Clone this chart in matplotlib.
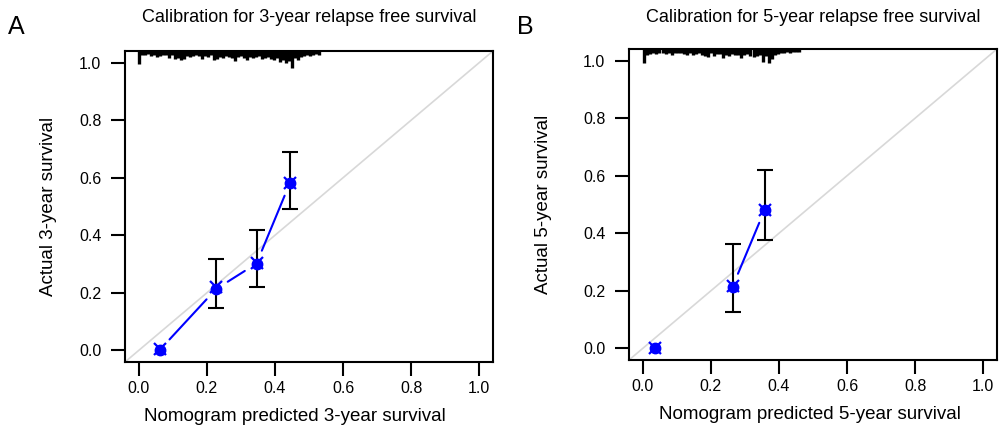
import matplotlib
matplotlib.use("Agg")
import matplotlib.pyplot as plt
import numpy as np

plt.rcParams['font.family'] = ['Liberation Sans', 'DejaVu Sans']

titles = ["Calibration for 3-year relapse free survival",
          "Calibration for 5-year relapse free survival"]
xlabels = ["Nomogram predicted 3-year survival", "Nomogram predicted 5-year survival"]
ylabels = ["Actual 3-year survival", "Actual 5-year survival"]
panel_tags = ["A", "B"]

# panel A: 3-year
pred_a = [0.063, 0.227, 0.346, 0.444]
obs_a = [0.003, 0.213, 0.302, 0.582]
corr_a = [0.004, 0.222, 0.303, 0.580]
lo_a = [np.nan, 0.148, 0.219, 0.491]
hi_a = [np.nan, 0.318, 0.419, 0.690]

# panel B: 5-year
pred_b = [0.035, 0.264, 0.358]
obs_b = [0.001, 0.215, 0.481]
corr_b = [0.002, 0.217, 0.481]
lo_b = [np.nan, 0.127, 0.377]
hi_b = [np.nan, 0.362, 0.620]

# which points are joined by the line
join_a = [0, 1, 2, 3]
join_b = [1, 2]

# rug of predicted values (tick lengths, relative frequency)
rug_a_start, rug_a_step = 0.0, 0.0088
rug_a = [12, 3, 3, 2, 4, 3, 5, 4, 3, 3, 6, 3, 7, 6, 8, 7, 4, 5, 4, 3,
         4, 7, 4, 5, 3, 8, 7, 5, 6, 4, 5, 6, 9, 5, 4, 6, 8, 5, 6, 5,
         4, 7, 6, 5, 7, 8, 6, 10, 8, 11, 9, 16, 6, 8, 5, 4, 3, 4, 3, 2, 3]
rug_b_start, rug_b_step = 0.005, 0.0089
rug_b = [13, 5, 4, 3, 4, 3, 3, 4, 3, 5, 3, 3, 3, 4, 5, 3, 5, 4, 3, 5,
         6, 7, 3, 6, 4, 4, 8, 5, 6, 4, 5, 5, 8, 5, 4, 6, 7, 6, 5, 12,
         6, 13, 9, 5, 4, 3, 3, 2, 3, 2, 2, 2]

panels = [
    dict(pred=pred_a, obs=obs_a, corr=corr_a, lo=lo_a, hi=hi_a, join=join_a,
         rug=rug_a, rug0=rug_a_start, rugstep=rug_a_step),
    dict(pred=pred_b, obs=obs_b, corr=corr_b, lo=lo_b, hi=hi_b, join=join_b,
         rug=rug_b, rug0=rug_b_start, rugstep=rug_b_step),
]

W, H = 999, 434
fig = plt.figure(figsize=(W / 100, H / 100), dpi=100)

# axes boxes in pixels: left, top, right, bottom
boxes = [(125, 51, 493, 362), (629, 49, 997, 360)]
xlab_x = [0.462, 0.492]
ylab_x = [-0.185, -0.209]
tag_x = [8, 517]

for i, (p, box) in enumerate(zip(panels, boxes)):
    l, t, r, b = box
    ax = fig.add_axes([l / W, 1 - b / H, (r - l) / W, (b - t) / H])
    ax.set_xlim(-0.04, 1.04)
    ax.set_ylim(-0.04, 1.04)

    ax.axline((0, 0), slope=1, color='#d8d8d8', lw=1.2, zorder=1)

    # rug at top
    px = 1.08 / (b - t)
    xs = p['rug0'] + p['rugstep'] * np.arange(len(p['rug']))
    ax.vlines(xs, 1.04 - (np.array(p['rug']) + 1) * px, 1.04, color='black',
              lw=2.4, zorder=3)

    pred = np.array(p['pred'])
    obs = np.array(p['obs'])
    # line between points with gaps (R type="b")
    for j0, j1 in zip(p['join'][:-1], p['join'][1:]):
        ax.annotate('', xy=(pred[j1], obs[j1]), xytext=(pred[j0], obs[j0]),
                    arrowprops=dict(arrowstyle='-', color='blue', lw=1.5,
                                    shrinkA=10, shrinkB=10), zorder=2)

    err_lo = obs - np.array(p['lo'])
    err_hi = np.array(p['hi']) - obs
    ax.errorbar(pred, obs, yerr=[err_lo, err_hi], fmt='none', ecolor='black',
                elinewidth=1.5, capsize=6, capthick=1.5, zorder=4)
    ax.plot(pred, obs, 'o', color='blue', ms=7.5, zorder=5)
    ax.plot(pred, p['corr'], 'x', color='blue', ms=9, mew=1.6, zorder=6)

    ticks = [0.0, 0.2, 0.4, 0.6, 0.8, 1.0]
    ax.set_xticks(ticks)
    ax.set_yticks(ticks)
    ax.set_xticklabels([f"{v:.1f}" for v in ticks])
    ax.set_yticklabels([f"{v:.1f}" for v in ticks])
    ax.tick_params(axis='both', direction='out', length=10, width=1.5,
                   labelsize=11.5, color='black')
    ax.tick_params(axis='x', pad=3.5)
    ax.tick_params(axis='y', pad=7)
    for s in ax.spines.values():
        s.set_linewidth(1.5)

    ax.set_xlabel(xlabels[i], fontsize=13.5)
    ax.set_ylabel(ylabels[i], fontsize=13.5)
    ax.xaxis.set_label_coords(xlab_x[i], -0.148)
    ax.yaxis.set_label_coords(ylab_x[i], 0.5)

    fig.text((l + r) / 2 / W, 1 - 18 / H, titles[i], ha='center', va='center',
             fontsize=13)
    fig.text(tag_x[i] / W, 1 - 15 / H, panel_tags[i], ha='left', va='top',
             fontsize=18)

fig.savefig("out.png", dpi=100)
